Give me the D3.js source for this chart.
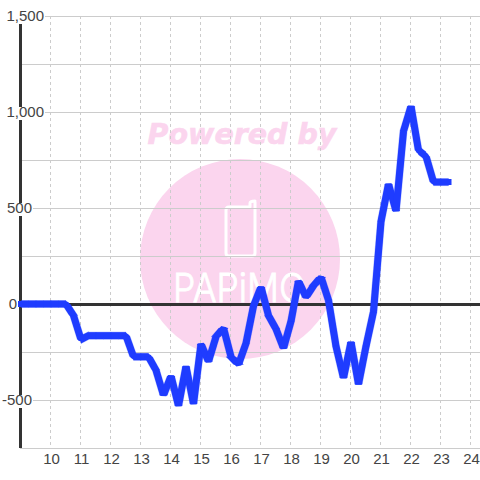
<!DOCTYPE html>
<html>
<head>
<meta charset="utf-8">
<script src="https://cdn.jsdelivr.net/npm/d3@7"></script>
<style>
  html, body { margin: 0; padding: 0; background: #fff; }
  svg { display: block; font-family: 'Liberation Sans', sans-serif; }
</style>
</head>
<body>
<div id="chart"></div>
<script>
const hours = [9, 9.25, 9.5, 9.75, 10, 10.25, 10.5, 10.75, 11, 11.25, 11.5, 11.75, 12, 12.25, 12.5, 12.75, 13, 13.25, 13.5, 13.75, 14, 14.25, 14.5, 14.75, 15, 15.25, 15.5, 15.75, 16, 16.25, 16.5, 16.75, 17, 17.25, 17.5, 17.75, 18, 18.25, 18.5, 18.75, 19, 19.25, 19.5, 19.75, 20, 20.25, 20.5, 20.75, 21, 21.25, 21.5, 21.75, 22, 22.25, 22.5, 22.75, 23, 23.25]
const values = [0, 0, 0, 0, 0, 0, 0, -60, -185, -165, -165, -165, -165, -165, -165, -275, -275, -275, -345, -475, -375, -530, -325, -520, -208, -300, -170, -125, -275, -315, -205, -10, 88, -60, -130, -230, -90, 120, 35, 95, 140, 20, -220, -385, -198, -418, -220, -40, 430, 625, 484, 900, 1030, 800, 770, 635, 635, 635]

const xTicks = [10, 11, 12, 13, 14, 15, 16, 17, 18, 19, 20, 21, 22, 23, 24]
const yGrid = [-750, -500, -250, 0, 250, 500, 750, 1000, 1250, 1500]
const yLabels = [1500, 1000, 500, 0, -500]

const width = 480
const height = 480
const thickness = 7

const xScale = d3.scaleLinear().domain([10, 24]).range([51, 471])
const yScale = d3.scaleLinear().domain([-750, 1500]).range([448, 16])

const svg = d3.select('#chart')
  .append('svg')
  .attr('width', width)
  .attr('height', height)

// watermark
const mark = svg.append('g')
mark.append('circle')
  .attr('cx', 240)
  .attr('cy', 259)
  .attr('r', 100)
  .attr('fill', '#fbd5ee')
mark.append('text')
  .attr('x', 242)
  .attr('y', 144)
  .attr('text-anchor', 'middle')
  .attr('font-family', 'DejaVu Sans')
  .attr('font-size', 28.5)
  .attr('font-weight', 'bold')
  .attr('font-style', 'italic')
  .attr('fill', '#fbd5ee')
  .attr('stroke', '#fbd5ee')
  .attr('stroke-width', 0.6)
  .text('Powered by')
mark.append('path')
  .attr('d', 'M250,207 H229 Q226,207 226,210 V253 Q226,256 229,256 H252 Q255,256 255,253 V202 M250,207 V203 Q250,201 255,201')
  .attr('fill', 'none')
  .attr('stroke', '#fff')
  .attr('stroke-width', 3)
  .attr('stroke-linecap', 'round')
mark.append('text')
  .attr('x', 173)
  .attr('y', 302)
  .attr('font-family', 'Inter')
  .attr('font-weight', 300)
  .attr('font-size', 40)
  .attr('textLength', 133)
  .attr('lengthAdjust', 'spacingAndGlyphs')
  .attr('fill', '#fff')
  .attr('stroke', '#fff')
  .attr('stroke-width', 0.8)
  .text('PAPiMO')

// grid
const grid = svg.append('g')
grid.selectAll('.h-grid')
  .data(yGrid)
  .enter()
  .append('line')
  .attr('x1', 20)
  .attr('x2', width)
  .attr('y1', d => Math.round(yScale(d)) + 0.5)
  .attr('y2', d => Math.round(yScale(d)) + 0.5)
  .attr('stroke', '#ccc')
grid.selectAll('.v-grid')
  .data(xTicks)
  .enter()
  .append('line')
  .attr('x1', d => xScale(d) - 0.5)
  .attr('x2', d => xScale(d) - 0.5)
  .attr('y1', 16)
  .attr('y2', 448)
  .attr('stroke', '#ccc')
  .attr('stroke-dasharray', '3,3')

// y axis and zero line
svg.append('line')
  .attr('x1', 20.5)
  .attr('x2', 20.5)
  .attr('y1', 16)
  .attr('y2', 448)
  .attr('stroke', '#333')
  .attr('stroke-width', 3)
svg.append('line')
  .attr('x1', 20)
  .attr('x2', width)
  .attr('y1', yScale(0) + 0.5)
  .attr('y2', yScale(0) + 0.5)
  .attr('stroke', '#333')
  .attr('stroke-width', 3)

// x labels
const xAxis = d3.axisBottom(xScale)
  .tickValues(xTicks)
  .tickSize(0)
  .tickPadding(0)
svg.append('g')
  .attr('transform', 'translate(0,453)')
  .call(xAxis)
  .call(g => g.select('.domain').remove())
  .selectAll('text')
  .attr('font-family', 'Liberation Sans')
  .attr('font-size', 15)
  .attr('fill', '#444')

// y labels, white box behind so they cut the axis and the grid
const labelRight = d => (d >= 1000 ? 44 : d === 0 ? 17 : 32)
const labelWidth = d => (d >= 1000 ? 37 : d === 0 ? 9 : d > 0 ? 25 : 30)
const yLabel = svg.selectAll('.y-label')
  .data(yLabels)
  .enter()
  .append('g')
  .attr('transform', d => `translate(${labelRight(d)},${yScale(d)})`)
yLabel.append('rect')
  .attr('x', d => -labelWidth(d))
  .attr('y', -5)
  .attr('width', d => labelWidth(d) + 1)
  .attr('height', 13)
  .attr('fill', '#fff')
yLabel.append('text')
  .attr('dy', '0.35em')
  .attr('text-anchor', 'end')
  .attr('font-size', 15)
  .attr('fill', '#444')
  .text(d => d3.format(',')(d).replace('\u2212', '-'))

// plain stroke under the quads, fills the notches at the joins and squares the ends
const line = d3.line()
  .x((d, i) => xScale(hours[i]))
  .y(d => yScale(d))
svg.append('path')
  .datum(values)
  .attr('d', line)
  .attr('fill', 'none')
  .attr('stroke', '#1f3cff')
  .attr('stroke-width', 6)
  .attr('stroke-linejoin', 'bevel')
  .attr('stroke-linecap', 'square')

// series line: each segment is a quad with level-cut ends, so the peaks stay flat
const quad = d3.line()
  .x(d => d[0])
  .y(d => d[1])
const segments = d3.pairs(values.map((v, i) => [xScale(hours[i]), yScale(v)]))

svg.append('g')
  .selectAll('path')
  .data(segments)
  .enter()
  .append('path')
  .attr('fill', '#1f3cff')
  .attr('stroke', '#1f3cff')
  .attr('stroke-width', 0.3)
  .attr('d', ([a, b]) => {
    const dx = b[0] - a[0]
    const dy = b[1] - a[1]
    const len = Math.hypot(dx, dy)
    if (Math.abs(dx) >= Math.abs(dy)) {
      const w = (thickness * len) / Math.abs(dx) / 2
      return quad([[a[0], a[1] - w], [b[0], b[1] - w], [b[0], b[1] + w], [a[0], a[1] + w]]) + 'Z'
    }
    const w = (thickness * len) / Math.abs(dy) / 2
    return quad([[a[0] - w, a[1]], [a[0] + w, a[1]], [b[0] + w, b[1]], [b[0] - w, b[1]]]) + 'Z'
  })
</script>
</body>
</html>
